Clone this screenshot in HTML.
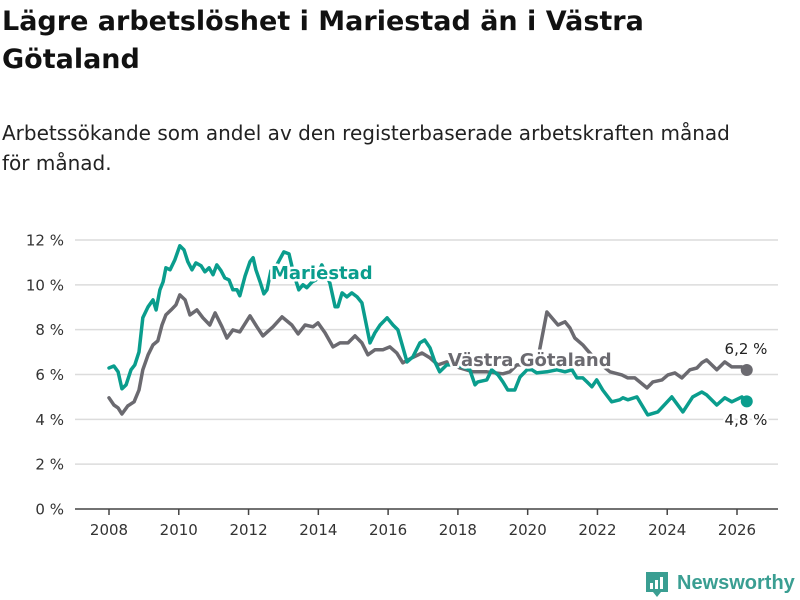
<!DOCTYPE html>
<html><head><meta charset="utf-8">
<style>
body{margin:0;background:#fff;font-family:"DejaVu Sans","Liberation Sans",sans-serif;color:#111;}
#wrap{position:relative;width:800px;height:600px;overflow:hidden;}
h1{position:absolute;left:2px;top:3px;margin:0;font-size:27px;line-height:38px;font-weight:bold;width:670px;}
p.sub{position:absolute;left:2px;top:118px;margin:0;font-size:20px;line-height:30px;width:785px;color:#222;}
svg{position:absolute;left:0;top:0;}
</style></head><body>
<div id="wrap">
<h1>Lägre arbetslöshet i Mariestad än i Västra Götaland</h1>
<p class="sub">Arbetssökande som andel av den registerbaserade arbetskraften månad<br>för månad.</p>
<svg id="chart" width="800" height="600"></svg>
</div>
<script>
const yTicks=[0,2,4,6,8,10,12];
const yTickLabels=["0 %","2 %","4 %","6 %","8 %","10 %","12 %"];
const xTicks=[2008,2010,2012,2014,2016,2018,2020,2022,2024,2026];
const mariestadDates=[2008.00,2008.14,2008.26,2008.37,2008.49,2008.63,2008.74,2008.86,2008.97,2009.12,2009.26,2009.35,2009.46,2009.55,2009.63,2009.75,2009.89,2010.03,2010.15,2010.26,2010.38,2010.49,2010.64,2010.75,2010.87,2010.98,2011.09,2011.21,2011.32,2011.44,2011.55,2011.67,2011.75,2011.90,2012.04,2012.13,2012.21,2012.33,2012.44,2012.53,2012.64,2012.81,2013.01,2013.16,2013.30,2013.44,2013.56,2013.67,2013.82,2013.93,2014.10,2014.33,2014.48,2014.56,2014.68,2014.82,2014.96,2015.11,2015.25,2015.48,2015.62,2015.77,2015.97,2016.14,2016.28,2016.54,2016.71,2016.91,2017.05,2017.20,2017.34,2017.48,2017.68,2018.00,2018.34,2018.49,2018.57,2018.83,2018.97,2019.15,2019.29,2019.43,2019.63,2019.78,2019.98,2020.12,2020.26,2020.55,2020.84,2021.07,2021.27,2021.41,2021.58,2021.70,2021.84,2021.98,2022.15,2022.41,2022.64,2022.73,2022.87,2023.13,2023.44,2023.73,2024.13,2024.45,2024.73,2024.99,2025.13,2025.42,2025.65,2025.85,2026.14,2026.28];
const mariestadValues=[6.29,6.38,6.12,5.36,5.54,6.21,6.43,7.01,8.53,9.02,9.33,8.88,9.78,10.13,10.76,10.67,11.12,11.74,11.56,11.03,10.67,10.98,10.85,10.58,10.76,10.45,10.89,10.63,10.31,10.22,9.78,9.78,9.51,10.40,11.03,11.21,10.67,10.13,9.60,9.78,10.63,10.89,11.47,11.38,10.45,9.78,10.0,9.87,10.13,10.22,10.89,10.09,9.02,9.02,9.64,9.46,9.64,9.46,9.20,7.41,7.86,8.21,8.53,8.21,7.99,6.56,6.79,7.41,7.54,7.19,6.56,6.12,6.43,6.43,6.21,5.54,5.67,5.76,6.21,5.98,5.67,5.31,5.31,5.89,6.21,6.21,6.07,6.12,6.21,6.12,6.21,5.85,5.85,5.67,5.45,5.76,5.31,4.78,4.87,4.96,4.87,5.0,4.20,4.33,5.0,4.33,5.0,5.22,5.09,4.64,4.96,4.78,5.0,4.8];
const vgDates=[2008.00,2008.14,2008.26,2008.37,2008.54,2008.72,2008.86,2008.97,2009.12,2009.26,2009.40,2009.52,2009.63,2009.78,2009.92,2010.03,2010.18,2010.32,2010.52,2010.69,2010.89,2011.04,2011.24,2011.38,2011.55,2011.75,2012.04,2012.24,2012.41,2012.70,2012.96,2013.24,2013.42,2013.62,2013.85,2013.99,2014.19,2014.42,2014.62,2014.85,2015.05,2015.25,2015.42,2015.62,2015.85,2016.05,2016.25,2016.42,2016.68,2016.97,2017.20,2017.43,2017.68,2018.06,2018.43,2018.83,2019.29,2019.49,2019.69,2020.26,2020.55,2020.87,2021.07,2021.21,2021.35,2021.58,2021.70,2022.01,2022.36,2022.70,2022.87,2023.07,2023.21,2023.42,2023.59,2023.85,2024.02,2024.22,2024.42,2024.65,2024.85,2024.99,2025.13,2025.42,2025.65,2025.85,2026.14,2026.28];
const vgValues=[4.96,4.64,4.51,4.24,4.60,4.78,5.31,6.21,6.88,7.32,7.50,8.21,8.66,8.88,9.11,9.55,9.33,8.66,8.88,8.53,8.21,8.75,8.13,7.63,7.99,7.90,8.62,8.13,7.72,8.13,8.57,8.21,7.81,8.21,8.13,8.30,7.86,7.23,7.41,7.41,7.72,7.41,6.88,7.10,7.10,7.23,6.96,6.52,6.74,6.96,6.74,6.43,6.56,6.29,6.12,6.12,6.03,6.12,6.43,6.43,8.79,8.21,8.35,8.08,7.63,7.32,7.10,6.56,6.12,5.98,5.85,5.85,5.67,5.40,5.67,5.76,5.98,6.07,5.85,6.21,6.29,6.52,6.65,6.21,6.56,6.34,6.34,6.2];

const NS='http://www.w3.org/2000/svg';
const svg=document.getElementById('chart');
const x0=2008,x1=2026,px0=109,px1=737,py0=509,py12=240;
function xs(v){return px0+(v-x0)*(px1-px0)/(x1-x0);}
function ys(v){return py0-v*(py0-py12)/12;}
function mk(tag,attrs,parent){const e=document.createElementNS(NS,tag);for(const k in attrs)e.setAttribute(k,attrs[k]);(parent||svg).appendChild(e);return e;}
const TEAL='#0a9d8d',GRAY='#6b6a70',FONT='"DejaVu Sans","Liberation Sans",sans-serif';

yTicks.forEach((t,i)=>{
  if(t>0){const g=mk('line',{x1:75,x2:778,y1:ys(t),y2:ys(t),stroke:'#dcdcdc','stroke-width':1.5});
  
  }
  const tx=mk('text',{x:64,y:ys(t)+5.5,'text-anchor':'end','font-size':15,fill:'#333','font-family':FONT});
  tx.textContent=yTickLabels[i];
  
  
});
const ax=mk('line',{x1:75,x2:778,y1:py0,y2:py0,stroke:'#444','stroke-width':1.5});


xTicks.forEach(t=>{
  const tk=mk('line',{x1:xs(t),x2:xs(t),y1:py0,y2:py0+6,stroke:'#444','stroke-width':1.5});
  
  
  const tx=mk('text',{x:xs(t),y:py0+26,'text-anchor':'middle','font-size':15,fill:'#333','font-family':FONT});
  tx.textContent=t;
  
  
});
function pathOf(d,v){return d.map((di,i)=>(i?'L':'M')+xs(di).toFixed(1)+','+ys(v[i]).toFixed(1)).join('');}
const lg=mk('path',{d:pathOf(vgDates,vgValues),fill:'none',stroke:GRAY,'stroke-width':3.5,'stroke-linejoin':'round','stroke-linecap':'round'});


const lm=mk('path',{d:pathOf(mariestadDates,mariestadValues),fill:'none',stroke:TEAL,'stroke-width':3.5,'stroke-linejoin':'round','stroke-linecap':'round'});


const lastM=mariestadValues.length-1,lastG=vgValues.length-1;
const dg=mk('circle',{cx:xs(vgDates[lastG]),cy:ys(vgValues[lastG]),r:6,fill:GRAY});


const dm=mk('circle',{cx:xs(mariestadDates[lastM]),cy:ys(mariestadValues[lastM]),r:6,fill:TEAL});


function lbl(txt,x,y,col,size,bold,name,anchor){
  const t=mk('text',{x:x,y:y,'text-anchor':anchor||'start','font-size':size,'font-weight':bold?'bold':'normal',fill:col,stroke:'#fff','stroke-width':5,'paint-order':'stroke','stroke-linejoin':'round','font-family':FONT});
  t.textContent=txt;
  
  
}
lbl('Mariestad',271,279,TEAL,18,true,'series-label-mariestad');
lbl('Västra Götaland',448,366,GRAY,18,true,'series-label-vastra-gotaland');
lbl(vgValues[lastG].toFixed(1).replace('.',',')+' %',746,354,'#222',15,false,'end-value-vastra-gotaland','middle');
lbl(mariestadValues[lastM].toFixed(1).replace('.',',')+' %',746,425,'#222',15,false,'end-value-mariestad','middle');
const lgG=mk('g',{});


mk('path',{d:'M646,572 h22 v20 h-7 l-4,5 l-4,-5 h-7 z',fill:'#3a9e92'},lgG);
mk('rect',{x:650,y:583,width:3,height:6,fill:'#fff'},lgG);
mk('rect',{x:655,y:580,width:3,height:9,fill:'#fff'},lgG);
mk('rect',{x:660,y:577,width:3,height:12,fill:'#fff'},lgG);
const lt=mk('text',{x:677,y:589,'font-size':20,fill:'#3a9e92','font-family':'"Liberation Sans",sans-serif','font-weight':'bold'},lgG);
lt.textContent='Newsworthy';
</script>
</body></html>
